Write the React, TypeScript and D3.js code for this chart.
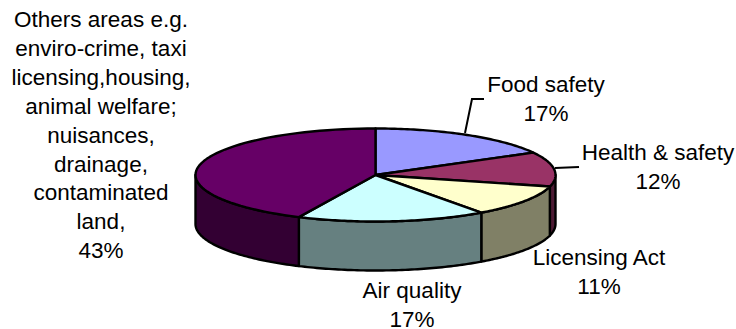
import React from "react";
import * as d3 from "d3";

const categories = ["Food safety", "Health & safety", "Licensing Act", "Air quality", "Others"];
const shares = [17, 12, 11, 17, 43];
const topColours = ["#9999FF", "#993366", "#FFFFCC", "#CCFFFF", "#660066"];
const sideColours = ["#4D4D80", "#4D1A33", "#808066", "#668080", "#330033"];

const foodLabel = ["Food safety", "17%"];
const healthLabel = ["Health & safety", "12%"];
const licensingLabel = ["Licensing Act", "11%"];
const airLabel = ["Air quality", "17%"];
const othersLabel = [
  "Others areas e.g.",
  "enviro-crime, taxi",
  "licensing,housing,",
  "animal welfare;",
  "nuisances,",
  "drainage,",
  "contaminated",
  "land,",
  "43%",
];

const WIDTH = 736;
const HEIGHT = 329;
const CX = 375.5;
const CY = 175;
const RX = 180;
const RY = 46.5;
const DEPTH = 49;
const LINE_GAP = 28.9;
const FONT = "'Liberation Sans', Arial, sans-serif";
const FONT_SIZE = 22.5;

// Tilted disc: angle measured clockwise from twelve o'clock, flattened by RY / RX.
const px = d3.scaleLinear().domain([-1, 1]).range([CX - RX, CX + RX]);
const py = d3.scaleLinear().domain([-1, 1]).range([CY - RY, CY + RY]);
const rim = (a: number, drop = 0): [number, number] => [px(Math.sin(a)), py(-Math.cos(a)) + drop];

const pie = d3.pie<number>().sort(null).value((d) => d);
const slices = pie(shares);
const line = d3.line();

const topPath = (s: d3.PieArcDatum<number>) => {
  const steps = d3.range(0, 61).map((i) => s.startAngle + ((s.endAngle - s.startAngle) * i) / 60);
  return line([[CX, CY], ...steps.map((a) => rim(a))])! + "Z";
};

// The wall is only visible on the front half of the disc (90deg to 270deg).
const sidePath = (s: d3.PieArcDatum<number>) => {
  const from = Math.max(s.startAngle, Math.PI / 2);
  const to = Math.min(s.endAngle, (3 * Math.PI) / 2);
  if (to <= from) return null;
  const steps = d3.range(0, 61).map((i) => from + ((to - from) * i) / 60);
  const upper = steps.map((a) => rim(a));
  const lower = steps.map((a) => rim(a, DEPTH)).reverse();
  return line([...upper, ...lower])! + "Z";
};

function Label({ x, y, lines }: { x: number; y: number; lines: string[] }) {
  return (
    <text x={x} y={y} textAnchor="middle" fontFamily={FONT} fontSize={FONT_SIZE} fill="#000">
      {lines.map((t, i) => (
        <tspan key={t} x={x} y={y + i * LINE_GAP}>
          {t}
        </tspan>
      ))}
    </text>
  );
}

export default function App() {
  return (
    <svg
      width={WIDTH}
      height={HEIGHT}
      viewBox={`0 0 ${WIDTH} ${HEIGHT}`}
      style={{ position: "absolute", left: 0, top: 0, background: "#fff" }}
      aria-label={categories.join(", ")}
    >
      <g stroke="#000" strokeWidth={2.4} strokeLinejoin="round">
        {slices.map((s, i) => {
          const d = sidePath(s);
          return d ? <path key={`side-${i}`} d={d} fill={sideColours[i]} /> : null;
        })}
        {slices.map((s, i) => (
          <path key={`top-${i}`} d={topPath(s)} fill={topColours[i]} />
        ))}
      </g>
      <g fill="none" stroke="#000" strokeWidth={2}>
        <path d={line([[465, 133], [472, 99], [484, 99]])!} />
        <path d={line([[555, 168], [579, 167]])!} />
      </g>
      <Label x={546} y={92} lines={foodLabel} />
      <Label x={658} y={160} lines={healthLabel} />
      <Label x={599} y={265} lines={licensingLabel} />
      <Label x={412} y={298} lines={airLabel} />
      <Label x={101} y={27} lines={othersLabel} />
    </svg>
  );
}
